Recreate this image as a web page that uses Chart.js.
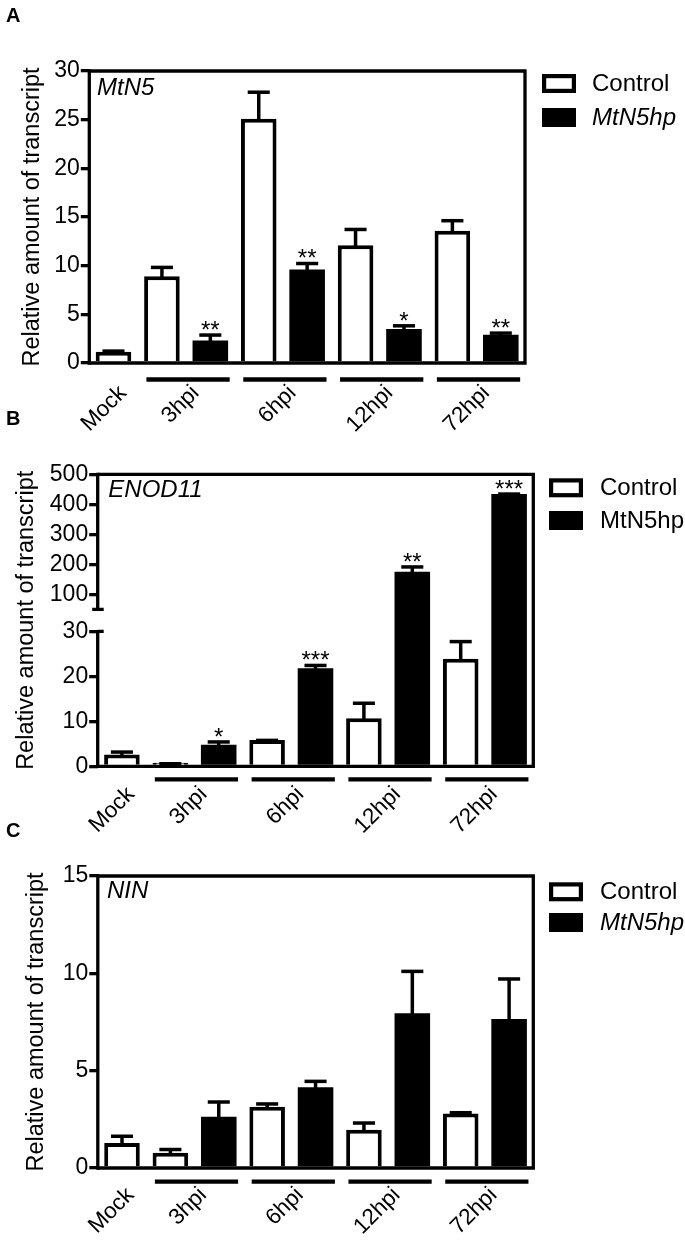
<!DOCTYPE html>
<html>
<head>
<meta charset="utf-8">
<script src="https://cdn.jsdelivr.net/npm/chart.js@4.4.0/dist/chart.umd.min.js"></script>
<style>
html,body{margin:0;padding:0;background:#fff;}
body{width:685px;height:1245px;position:relative;overflow:hidden;}
.panel{position:absolute;left:0;width:685px;}
canvas{display:block;}
</style>
</head>
<body>
<div class="panel" style="top:0px;height:440px"><canvas id="cA"></canvas></div>
<div class="panel" style="top:400px;height:440px"><canvas id="cB"></canvas></div>
<div class="panel" style="top:810px;height:435px"><canvas id="cC"></canvas></div>
<script>
// ---------------- DATA ----------------
const groups = ['Mock', '3hpi', '6hpi', '12hpi', '72hpi'];
const seriesNames = ['Control', 'MtN5hp'];
const yTitle = 'Relative amount of transcript';

// Panel A - MtN5
const geneA = 'MtN5';
const ctrlA    = [1.16, 8.9, 25.1, 12.1, 13.6];
const ctrlErrA = [1.4, 10.0, 28.0, 13.9, 14.8];
const hpA      = [null, 2.3, 9.6, 3.5, 2.9];
const hpErrA   = [null, 3.05, 10.4, 4.0, 3.25];
const sigA     = ['', '**', '**', '*', '**'];
const ticksA   = [0, 5, 10, 15, 20, 25, 30];

// Panel B - ENOD11 (broken axis 30 / 50)
const geneB = 'ENOD11';
const ctrlB    = [2.6, 0.8, 5.85, 10.7, 23.9];
const ctrlErrB = [3.55, 0.95, 6.15, 14.4, 28.1];
const hpB      = [null, 4.8, 21.8, 175, 434];
const hpErrB   = [null, 5.8, 22.8, 197, 440];
const sigB     = ['', '*', '***', '**', '***'];
const ticksB   = [0, 10, 20, 30, 100, 200, 300, 400, 500];
const breakB   = [30, 50];

// Panel C - NIN
const geneC = 'NIN';
const ctrlC    = [1.28, 0.78, 3.14, 1.96, 2.8];
const ctrlErrC = [1.72, 1.04, 3.38, 2.4, 2.93];
const hpC      = [null, 2.63, 4.15, 7.95, 7.66];
const hpErrC   = [null, 3.48, 4.54, 10.19, 9.8];
const sigC     = ['', '', '', '', ''];
const ticksC   = [0, 5, 10, 15];

// ---------------- HELPERS ----------------
const FONT = "'Liberation Sans', Arial, Helvetica, sans-serif";
const slotGroup  = [0, 1, 1, 2, 2, 3, 3, 4, 4];
const slotSeries = [0, 0, 1, 0, 1, 0, 1, 0, 1];
const slotLabels = slotGroup.map((g, i) => groups[g] + ' ' + seriesNames[slotSeries[i]]);
function toSlots(arr, s) {
  return slotGroup.map((g, i) => slotSeries[i] === s ? arr[g] : null);
}

// broken-axis fraction (bottom segment / gap / top segment)
const segFrac = 135 / 292;
function brokenFraction(v) {
  const [lo, hi] = breakB;
  const top = ticksB[ticksB.length - 1];
  if (v <= lo) return (v / lo) * segFrac;
  if (v < hi) return segFrac + (v - lo) / (hi - lo) * (1 - 2 * segFrac);
  return (1 - segFrac) + (v - hi) / (top - hi) * segFrac;
}
function brokenValue(d) {
  const [lo, hi] = breakB;
  const top = ticksB[ticksB.length - 1];
  if (d <= segFrac) return d / segFrac * lo;
  if (d < 1 - segFrac) return lo + (d - segFrac) / (1 - 2 * segFrac) * (hi - lo);
  return hi + (d - (1 - segFrac)) / segFrac * (top - hi);
}
class BrokenScale extends Chart.LinearScale {
  getPixelForValue(value) {
    if (value === null || value === undefined || isNaN(value)) return NaN;
    return this.getPixelForDecimal(brokenFraction(value));
  }
  getValueForPixel(pixel) {
    return brokenValue(this.getDecimalForPixel(pixel));
  }
}
BrokenScale.id = 'brokenY';
BrokenScale.defaults = Chart.LinearScale.defaults;
Chart.register(BrokenScale);

// ---------------- PLUGIN ----------------
const decorPlugin = {
  id: 'decor',
  afterDatasetsDraw(chart, args, o) {
    const ctx = chart.ctx;
    const y = chart.scales.y;
    const a = chart.chartArea;
    ctx.save();
    ctx.strokeStyle = '#000';
    ctx.fillStyle = '#000';
    ctx.lineCap = 'butt';
    // error bars + significance
    o.errs.forEach((errArr, di) => {
      const meta = chart.getDatasetMeta(di);
      meta.data.forEach((bar, i) => {
        const v = chart.data.datasets[di].data[i];
        const e = errArr[i];
        if (v == null || e == null) return;
        const p = bar.getProps(['x', 'y', 'width'], true);
        const top = y.getPixelForValue(e);
        const capW = p.width * 0.62;
        ctx.lineWidth = 3.5;
        ctx.beginPath();
        ctx.moveTo(p.x, p.y + 1);
        ctx.lineTo(p.x, top + 1.75);
        ctx.stroke();
        ctx.beginPath();
        ctx.moveTo(p.x - capW / 2, top + 1.75);
        ctx.lineTo(p.x + capW / 2, top + 1.75);
        ctx.stroke();
        const s = o.sigs[di][i];
        if (s) {
          ctx.font = '24px ' + FONT;
          ctx.textAlign = 'center';
          ctx.textBaseline = 'alphabetic';
          ctx.fillText(s, p.x, top + 4.5);
        }
      });
    });
    // frame
    ctx.lineWidth = 3.3;
    ctx.beginPath();
    ctx.moveTo(a.left, a.top); ctx.lineTo(a.right, a.top);
    ctx.lineTo(a.right, a.bottom); ctx.lineTo(a.left, a.bottom);
    ctx.stroke();
    if (o.broken) {
      const pLo = y.getPixelForValue(o.broken[0]);
      const pHi = y.getPixelForValue(o.broken[1]);
      ctx.beginPath();
      ctx.moveTo(a.left, a.top - 1.65); ctx.lineTo(a.left, pHi);
      ctx.moveTo(a.left, pLo); ctx.lineTo(a.left, a.bottom + 1.65);
      ctx.stroke();
      ctx.beginPath();
      ctx.moveTo(a.left - 5.5, pHi); ctx.lineTo(a.left + 6, pHi);
      ctx.moveTo(a.left, pLo); ctx.lineTo(a.left + 6, pLo);
      ctx.stroke();
    } else {
      ctx.beginPath();
      ctx.moveTo(a.left, a.top - 1.65); ctx.lineTo(a.left, a.bottom + 1.65);
      ctx.stroke();
    }
    ctx.restore();
  },
  afterDraw(chart, args, o) {
    const ctx = chart.ctx;
    const a = chart.chartArea;
    const x = chart.scales.x;
    const step = x.getPixelForValue(1) - x.getPixelForValue(0);
    ctx.save();
    ctx.fillStyle = '#000';
    ctx.strokeStyle = '#000';
    groups.forEach((g, gi) => {
      let cx;
      if (gi === 0) {
        cx = x.getPixelForValue(0);
      } else {
        const p1 = x.getPixelForValue(2 * gi - 1);
        const p2 = x.getPixelForValue(2 * gi);
        cx = (p1 + p2) / 2;
        // group underline
        ctx.lineWidth = 4.3;
        ctx.beginPath();
        ctx.moveTo(p1 - 0.32 * step, a.bottom + o.underY);
        ctx.lineTo(p2 + 0.40 * step, a.bottom + o.underY);
        ctx.stroke();
      }
      // rotated group label
      ctx.save();
      ctx.translate(cx + o.labOff[0], a.bottom + o.labOff[1]);
      ctx.rotate(-Math.PI / 4);
      ctx.font = '22.5px ' + FONT;
      ctx.textAlign = 'right';
      ctx.textBaseline = 'alphabetic';
      ctx.fillText(g, 0, 0);
      ctx.restore();
    });
    // gene name
    ctx.font = 'italic 24px ' + FONT;
    ctx.textAlign = 'left';
    ctx.textBaseline = 'alphabetic';
    ctx.fillText(o.gene, a.left + o.geneOff[0], a.top + o.geneOff[1]);
    // panel letter
    ctx.font = 'bold 20px ' + FONT;
    ctx.fillText(o.letter, 6, o.letterBase);
    // legend
    const [lx, ly, gap, tx] = o.legend;
    const bw = 34, bh = 19;
    chart.data.datasets.forEach((ds, di) => {
      const by = ly + di * gap;
      if (di === 0) {
        ctx.fillStyle = '#fff';
        ctx.fillRect(lx, by, bw, bh);
        ctx.lineWidth = 4.2;
        ctx.strokeStyle = '#000';
        ctx.strokeRect(lx + 2.1, by + 2.1, bw - 4.2, bh - 4.2);
      } else {
        ctx.fillStyle = '#000';
        ctx.fillRect(lx, by, bw, bh);
      }
      ctx.fillStyle = '#000';
      ctx.font = ((di === 1 && o.hpItalic) ? 'italic ' : '') + '24px ' + FONT;
      ctx.textBaseline = 'middle';
      ctx.fillText(ds.label, tx, by + bh / 2 + 1);
    });
    ctx.restore();
  }
};

// ---------------- CHARTS ----------------
function makeChart(canvasId, cfg) {
  const L = cfg.layout;
  const cv = document.getElementById(canvasId);
  cv.width = 685; cv.height = L.h;
  cv.style.width = '685px'; cv.style.height = L.h + 'px';
  const ctrlSlots = toSlots(cfg.ctrl, 0);
  const hpSlots = toSlots(cfg.hp, 1);
  const ctrlErrSlots = toSlots(cfg.ctrlErr, 0);
  const hpErrSlots = toSlots(cfg.hpErr, 1);
  const ctrlSigSlots = slotGroup.map(() => '');
  const hpSigSlots = toSlots(cfg.sig, 1);
  return new Chart(cv, {
    type: 'bar',
    data: {
      labels: slotLabels,
      datasets: [
        { label: seriesNames[0], data: ctrlSlots, backgroundColor: '#fff', borderColor: '#000',
          borderWidth: 4, grouped: false, categoryPercentage: 1, barPercentage: 0.735 },
        { label: seriesNames[1], data: hpSlots, backgroundColor: '#000', borderColor: '#000',
          borderWidth: 0, grouped: false, categoryPercentage: 1, barPercentage: 0.735 }
      ]
    },
    options: {
      responsive: false,
      animation: false,
      layout: { padding: { top: L.area[1], right: 685 - L.area[2], bottom: 0, left: 0 } },
      plugins: {
        legend: { display: false },
        tooltip: { enabled: false },
        decor: {
          errs: [ctrlErrSlots, hpErrSlots], sigs: [ctrlSigSlots, hpSigSlots],
          broken: cfg.broken || null, gene: cfg.gene, letter: cfg.letter,
          hpItalic: cfg.hpItalic, legend: L.legend, underY: L.underY, labOff: L.labOff,
          geneOff: L.geneOff, letterBase: L.letterBase
        }
      },
      scales: {
        x: {
          type: 'category', offset: true,
          afterFit: s => { s.height = L.h - L.area[3]; },
          grid: { display: false }, border: { display: false },
          ticks: { display: false }
        },
        y: {
          type: cfg.scaleType, min: 0, max: cfg.ticks[cfg.ticks.length - 1],
          afterBuildTicks: s => { s.ticks = cfg.ticks.map(v => ({ value: v })); },
          afterFit: s => { s.width = L.area[0]; },
          grid: { drawOnChartArea: false, drawTicks: true, tickLength: 8.5, tickWidth: 3.3,
                  tickColor: '#000', color: '#000', lineWidth: 3.3 },
          border: { display: false },
          ticks: { padding: 1, color: '#000', font: { family: FONT, size: 23 }, callback: v => String(v) },
          title: { display: true, text: yTitle, color: '#000', font: { family: FONT, size: 23.5 },
                   padding: { top: L.titlePad, bottom: 0 } }
        }
      }
    },
    plugins: [decorPlugin]
  });
}

makeChart('cA', {
  letter: 'A', gene: geneA, ctrl: ctrlA, ctrlErr: ctrlErrA, hp: hpA, hpErr: hpErrA, sig: sigA,
  ticks: ticksA, scaleType: 'linear', hpItalic: true,
  layout: { h: 440, area: [89.3, 71, 525, 363], titlePad: 18, underY: 16.5, labOff: [14, 31],
            legend: [542, 74, 34, 592], geneOff: [7.7, 24], letterBase: 22 }
});
makeChart('cB', {
  letter: 'B', gene: geneB, ctrl: ctrlB, ctrlErr: ctrlErrB, hp: hpB, hpErr: hpErrB, sig: sigB,
  ticks: ticksB, scaleType: 'brokenY', hpItalic: false, broken: breakB,
  layout: { h: 440, area: [97.7, 74.3, 533.3, 366.3], titlePad: 12.7, underY: 13, labOff: [13.5, 29],
            legend: [549, 78.3, 32.7, 600], geneOff: [10.6, 22.4], letterBase: 25 }
});
makeChart('cC', {
  letter: 'C', gene: geneC, ctrl: ctrlC, ctrlErr: ctrlErrC, hp: hpC, hpErr: hpErrC, sig: sigC,
  ticks: ticksC, scaleType: 'linear', hpItalic: true,
  layout: { h: 435, area: [97.8, 66, 533.3, 358], titlePad: 22.2, underY: 13.7, labOff: [13, 28],
            legend: [549, 72.3, 30.7, 600], geneOff: [9.2, 22], letterBase: 27 }
});
</script>
</body>
</html>
